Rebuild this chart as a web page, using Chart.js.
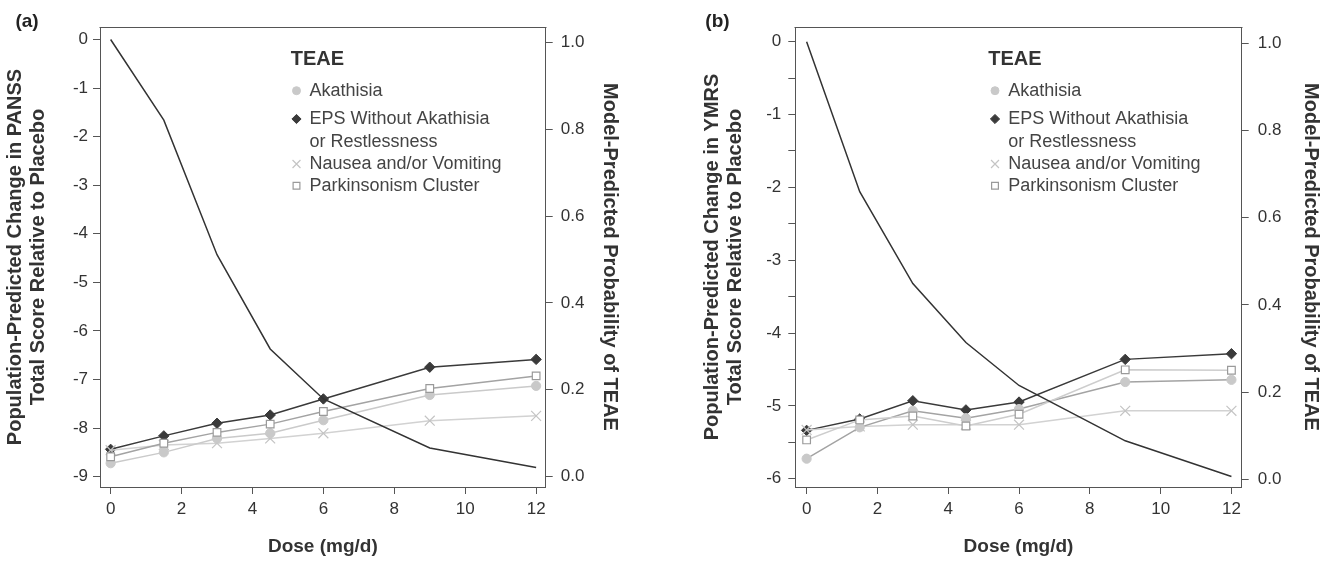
<!DOCTYPE html>
<html><head><meta charset="utf-8">
<script src="https://cdn.jsdelivr.net/npm/chart.js@4.4.1/dist/chart.umd.min.js"></script>
<style>
html,body{margin:0;padding:0;background:#fff;}
#wrap{position:relative;width:1333px;height:561px;overflow:hidden;}
#ca{position:absolute;left:0;top:0;}
#cb{position:absolute;left:666px;top:0;}
</style></head><body>
<div id="wrap"><canvas id="ca" width="666" height="561"></canvas><canvas id="cb" width="667" height="561"></canvas></div>
<script>
// ---------- data ----------
const doses = [0, 1.5, 3, 4.5, 6, 9, 12];
const xTicks = [0, 2, 4, 6, 8, 10, 12];
const probTicks = [0, 0.2, 0.4, 0.6, 0.8, 1.0];
const panssTicks = [-9, -8, -7, -6, -5, -4, -3, -2, -1, 0];
const ymrsTicks = [-6, -5.5, -5, -4.5, -4, -3.5, -3, -2.5, -2, -1.5, -1, -0.5, 0];
const teaeLabels = ['Akathisia', ['EPS Without Akathisia', 'or Restlessness'], 'Nausea and/or Vomiting', 'Parkinsonism Cluster'];

// Panel (a): PANSS
const panssChange = [0, -1.66, -4.43, -6.37, -7.40, -8.41, -8.81];
const akathisiaA = [0.031, 0.056, 0.088, 0.100, 0.130, 0.188, 0.209];
const epsA = [0.063, 0.094, 0.123, 0.142, 0.179, 0.252, 0.270];
const nauseaA = [0.061, 0.073, 0.077, 0.088, 0.100, 0.129, 0.140];
const parkinsonismA = [0.046, 0.077, 0.102, 0.121, 0.150, 0.203, 0.232];

// Panel (b): YMRS
const ymrsChange = [0, -2.06, -3.32, -4.13, -4.72, -5.48, -5.97];
const akathisiaB = [0.047, 0.119, 0.157, 0.140, 0.161, 0.223, 0.228];
const epsB = [0.112, 0.138, 0.180, 0.159, 0.177, 0.275, 0.288];
const nauseaB = [0.113, 0.121, 0.125, 0.125, 0.125, 0.157, 0.157];
const parkinsonismB = [0.090, 0.136, 0.145, 0.122, 0.149, 0.251, 0.250];

// ---------- styling ----------
const FAM = '"Liberation Sans", Arial, Helvetica, sans-serif';
const AXIS = '#555';
const TXT = '#333';
const pts = arr => doses.map((d, i) => ({x: d, y: arr[i]}));

const markerStyles = {
  akathisia: {pointStyle: 'circle', radius: 4.6, fill: '#c9c9c9', stroke: '#c9c9c9', bw: 1, lr: 4},
  eps: {pointStyle: 'rectRot', radius: 5.2, fill: '#3a3a3a', stroke: '#3a3a3a', bw: 1, lr: 4.6},
  nausea: {pointStyle: 'crossRot', radius: 7, fill: 'rgba(0,0,0,0)', stroke: '#c4c4c4', bw: 1.2, lr: 5.6},
  park: {pointStyle: 'rect', radius: 5.4, fill: '#ffffff', stroke: '#9a9a9a', bw: 1.2, lr: 4.8}
};

function teaeDataset(label, arr, key, lineColor) {
  const m = markerStyles[key];
  return {
    label: Array.isArray(label) ? label.join(' ') : label,
    data: pts(arr), yAxisID: 'y2', borderColor: lineColor, borderWidth: 1.5,
    pointStyle: m.pointStyle, pointRadius: m.radius, pointHoverRadius: m.radius,
    pointBackgroundColor: m.fill, pointBorderColor: m.stroke, pointBorderWidth: m.bw,
    fill: false, tension: 0, order: 2
  };
}

function drawMarker(ctx, m, x, y) {
  ctx.save();
  ctx.fillStyle = m.fill; ctx.strokeStyle = m.stroke; ctx.lineWidth = m.bw;
  const r = m.lr;
  if (Chart.helpers && Chart.helpers.drawPoint) {
    Chart.helpers.drawPoint(ctx, {pointStyle: m.pointStyle, radius: r, rotation: 0, borderWidth: m.bw}, x, y);
  } else {
    ctx.beginPath();
    if (m.pointStyle === 'circle') { ctx.arc(x, y, r, 0, Math.PI * 2); ctx.fill(); ctx.stroke(); }
    else if (m.pointStyle === 'rectRot') { ctx.moveTo(x, y - r); ctx.lineTo(x + r, y); ctx.lineTo(x, y + r); ctx.lineTo(x - r, y); ctx.closePath(); ctx.fill(); ctx.stroke(); }
    else if (m.pointStyle === 'rect') { const s = r * Math.SQRT1_2; ctx.rect(x - s, y - s, 2 * s, 2 * s); ctx.fill(); ctx.stroke(); }
    else { const s = r * Math.SQRT1_2; ctx.moveTo(x - s, y - s); ctx.lineTo(x + s, y + s); ctx.moveTo(x + s, y - s); ctx.lineTo(x - s, y + s); ctx.stroke(); }
  }
  ctx.restore();
}

const panelPlugin = {
  id: 'panelDecor',
  afterDraw(chart, args, opts) {
    const ctx = chart.ctx, ca = chart.chartArea;
    // top border of the box
    ctx.save();
    ctx.strokeStyle = AXIS; ctx.lineWidth = 1;
    ctx.beginPath();
    ctx.moveTo(Math.round(ca.left) - 0.5, Math.round(ca.top) + 0.5);
    ctx.lineTo(Math.round(ca.right) + 0.5, Math.round(ca.top) + 0.5);
    ctx.stroke();
    // panel letter
    ctx.fillStyle = '#222';
    ctx.font = 'bold 19px ' + FAM;
    ctx.textAlign = 'center'; ctx.textBaseline = 'middle';
    ctx.fillText(opts.letter, opts.letterX, opts.letterY);
    // legend
    const L = opts.legend;
    ctx.textAlign = 'left';
    ctx.fillStyle = TXT;
    ctx.font = 'bold 20px ' + FAM;
    ctx.fillText('TEAE', L.titleX, L.titleY);
    ctx.font = '18px ' + FAM;
    ctx.fillStyle = '#444';
    const keys = ['akathisia', 'eps', 'nausea', 'park'];
    let row = 0;
    keys.forEach((k, i) => {
      const lab = teaeLabels[i];
      const lines = Array.isArray(lab) ? lab : [lab];
      drawMarker(ctx, markerStyles[k], L.markerX, L.rows[row]);
      lines.forEach(t => { ctx.fillStyle = '#444'; ctx.fillText(t, L.textX, L.rows[row]); row++; });
    });
    ctx.restore();
  }
};

function makePanel(canvasId, cfg) {
  const tickFont = {family: FAM, size: 17};
  const titleFont = {family: FAM, size: 20, weight: 'bold', lineHeight: 1.15};
  return new Chart(document.getElementById(canvasId), {
    type: 'line',
    data: {
      datasets: [
        {label: 'efficacy', data: pts(cfg.efficacy), yAxisID: 'y', borderColor: '#333', borderWidth: 1.5, pointRadius: 0, fill: false, tension: 0, order: 1},
        teaeDataset(teaeLabels[3], cfg.park, 'park', cfg.parkLine),
        teaeDataset(teaeLabels[0], cfg.akat, 'akathisia', cfg.akatLine),
        teaeDataset(teaeLabels[2], cfg.naus, 'nausea', '#d2d2d2'),
        teaeDataset(teaeLabels[1], cfg.eps, 'eps', '#3a3a3a')
      ]
    },
    options: {
      responsive: false, animation: false, devicePixelRatio: 1,
      layout: {padding: {top: 27, left: 0, right: 0, bottom: 0}},
      plugins: {legend: {display: false}, tooltip: {enabled: false},
        panelDecor: {letter: cfg.letter, letterX: cfg.letterX, letterY: 22, legend: cfg.legend}},
      scales: {
        x: {
          type: 'linear', position: 'bottom', min: cfg.xMin, max: cfg.xMax,
          afterBuildTicks: s => { s.ticks = xTicks.map(v => ({value: v})); },
          afterFit: s => { s.height = 74; },
          grid: {drawOnChartArea: false, drawTicks: true, tickLength: 7, tickColor: AXIS},
          border: {display: true, color: AXIS, width: 1},
          ticks: {font: tickFont, color: TXT, padding: 5, autoSkip: false, maxRotation: 0, callback: v => String(v)},
          title: {display: true, text: 'Dose (mg/d)', font: {family: FAM, size: 19, weight: 'bold', lineHeight: 1.2}, color: TXT, padding: {top: 0, bottom: 2.6}}
        },
        y: {
          type: 'linear', position: 'left', min: cfg.yMin, max: cfg.yMax,
          afterBuildTicks: s => { s.ticks = cfg.yTicks.map(v => ({value: v})); },
          afterFit: s => { s.width = cfg.leftW; },
          grid: {drawOnChartArea: false, drawTicks: true, tickLength: 7, tickColor: AXIS},
          border: {display: true, color: AXIS, width: 1},
          ticks: {font: tickFont, color: TXT, padding: cfg.leftPad, autoSkip: false, callback: v => Number.isInteger(v) ? String(v) : ''},
          title: {display: true, text: cfg.yTitle, font: titleFont, color: TXT, padding: {top: cfg.leftTitlePad, bottom: 0}}
        },
        y2: {
          type: 'linear', position: 'right', min: cfg.y2Min, max: cfg.y2Max,
          afterBuildTicks: s => { s.ticks = probTicks.map(v => ({value: v})); },
          afterFit: s => { s.width = cfg.rightW; },
          grid: {drawOnChartArea: false, drawTicks: true, tickLength: 7, tickColor: AXIS},
          border: {display: true, color: AXIS, width: 1},
          ticks: {font: tickFont, color: TXT, padding: cfg.rightPad, autoSkip: false, callback: v => Number(v).toFixed(1)},
          title: {display: true, text: 'Model-Predicted Probability of TEAE', font: titleFont, color: TXT, padding: {top: cfg.rightTitlePad, bottom: 0}}
        }
      }
    },
    plugins: [panelPlugin]
  });
}

makePanel('ca', {
  letter: '(a)', letterX: 27,
  efficacy: panssChange, akat: akathisiaA, eps: epsA, naus: nauseaA, park: parkinsonismA,
  parkLine: '#a3a3a3', akatLine: '#cacaca',
  xMin: -0.30, xMax: 12.27,
  yMin: -9.212, yMax: 0.257, yTicks: panssTicks,
  y2Min: -0.0237, y2Max: 1.035,
  leftW: 100, leftPad: 5, leftTitlePad: 4,
  rightW: 120.3, rightPad: 8, rightTitlePad: 45,
  yTitle: ['Population-Predicted Change in PANSS', 'Total Score Relative to Placebo'],
  legend: {titleX: 290.7, titleY: 59.5, markerX: 296.5, textX: 309.5, rows: [90.7, 119, 142.3, 164, 185.7]}
});

makePanel('cb', {
  letter: '(b)', letterX: 51.5,
  efficacy: ymrsChange, akat: akathisiaB, eps: epsB, naus: nauseaB, park: parkinsonismB,
  parkLine: '#cdcdcd', akatLine: '#a3a3a3',
  xMin: -0.32, xMax: 12.29,
  yMin: -6.114, yMax: 0.2017, yTicks: ymrsTicks,
  y2Min: -0.018, y2Max: 1.038,
  leftW: 129.3, leftPad: 7, leftTitlePad: 35,
  rightW: 91.3, rightPad: 9, rightTitlePad: 11,
  yTitle: ['Population-Predicted Change in YMRS', 'Total Score Relative to Placebo'],
  legend: {titleX: 322.3, titleY: 59.5, markerX: 329, textX: 342.3, rows: [90.7, 119, 142.3, 164, 185.7]}
});
</script>
</body></html>
